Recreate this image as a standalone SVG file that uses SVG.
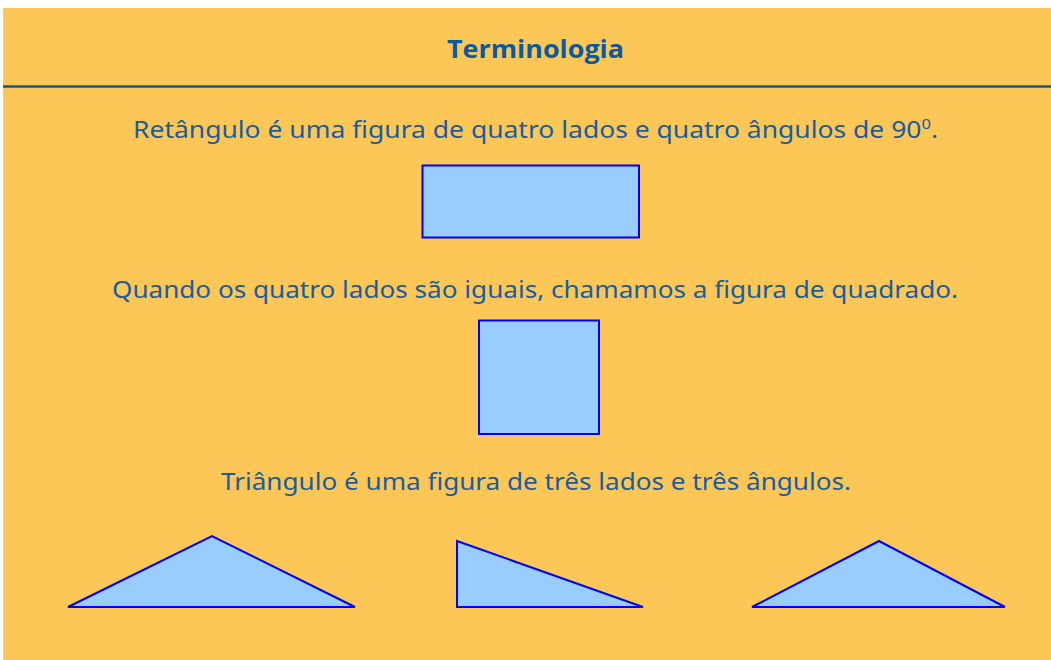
<svg xmlns="http://www.w3.org/2000/svg" width="1051" height="660" viewBox="0 0 1051 660">
<style>
.t{font-family:"Noto Sans","Open Sans",sans-serif;font-size:24px;fill:#175da3}
.h{font-family:"Open Sans","Noto Sans",sans-serif;font-weight:bold;font-size:25px;fill:#0b5aa0}
.s{fill:#99ccff;stroke:#0000ff;stroke-width:2}
</style>
<rect x="0" y="0" width="1051" height="660" fill="#ffffff"/>
<rect x="3" y="8" width="1048" height="652" fill="#fcc757"/>
<line x1="3" y1="86.5" x2="1051" y2="86.5" stroke="#0b5aa0" stroke-width="2.5"/>
<g id="title"><text class="h" x="535.5" y="58" text-anchor="middle" textLength="177" lengthAdjust="spacingAndGlyphs">Terminologia</text></g>
<g id="text1"><text class="t" x="133" y="138" textLength="805" lengthAdjust="spacingAndGlyphs">Retângulo é uma figura de quatro lados e quatro ângulos de 90<tspan font-size="15" dy="-9">0</tspan><tspan dy="9">.</tspan></text></g>
<g id="rect"><rect class="s" x="422.5" y="165.5" width="216.5" height="72"/></g>
<g id="text2"><text class="t" x="535" y="298" text-anchor="middle" textLength="846" lengthAdjust="spacingAndGlyphs">Quando os quatro lados são iguais, chamamos a figura de quadrado.</text></g>
<g id="square"><rect class="s" x="479" y="320.5" width="120" height="113.5"/></g>
<g id="text3"><text class="t" x="536" y="490" text-anchor="middle" textLength="630" lengthAdjust="spacingAndGlyphs">Triângulo é uma figura de três lados e três ângulos.</text></g>
<g id="tri1"><polygon class="s" points="68,607 212,536 355,607"/></g>
<g id="tri2"><polygon class="s" points="457,541 457,607 643,607"/></g>
<g id="tri3"><polygon class="s" points="752,607 879,541 1005,607"/></g>
<g id="connectors"></g>
</svg>
